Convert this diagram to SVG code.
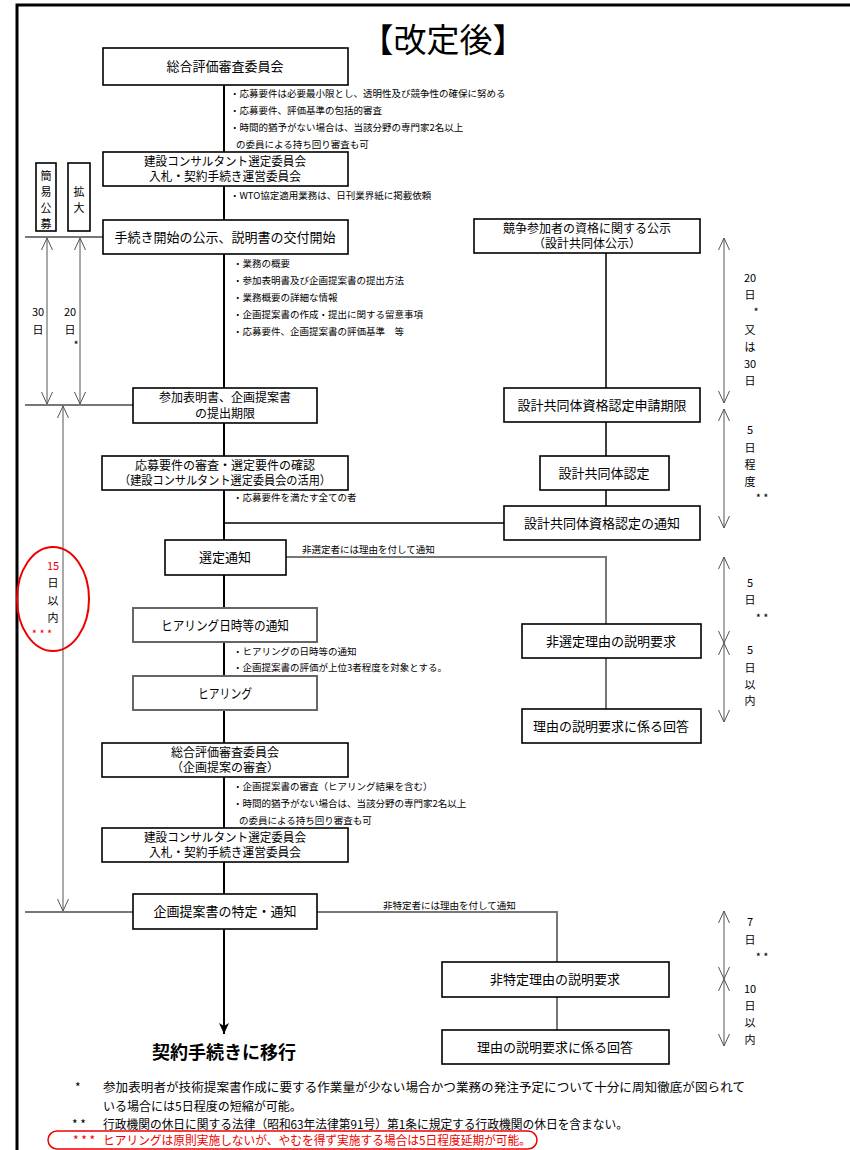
<svg xmlns="http://www.w3.org/2000/svg" width="850" height="1150" viewBox="0 0 850 1150">
<style>
text{font-family:"Noto Sans CJK JP","Noto Sans",sans-serif;fill:#000}
.bt{font-size:13px;text-anchor:middle}
.b2{font-size:12px;text-anchor:middle}
.n{font-size:9.5px}
.s{font-size:11px;text-anchor:middle}
.fn{font-size:12px}
.red{fill:#e00}
.box{fill:#fff;stroke:#000;stroke-width:1.6}
.gbox{fill:#fff;stroke:#666;stroke-width:2}
.main{stroke:#000;stroke-width:2;fill:none}
.thin{stroke:#000;stroke-width:1.5;fill:none}
.gray{stroke:#777;stroke-width:2;fill:none}
.dim{stroke:#555;stroke-width:1;fill:none}
</style>
<defs>
<marker id="v" viewBox="-14 -8 16 16" markerWidth="16" markerHeight="16" refX="0" refY="0" orient="auto-start-reverse" markerUnits="userSpaceOnUse">
<path d="M-12,-5.5 L0,0 L-12,5.5" fill="none" stroke="#555" stroke-width="1"/>
</marker>
<marker id="f" viewBox="-12 -6 13 12" markerWidth="13" markerHeight="12" refX="0" refY="0" orient="auto" markerUnits="userSpaceOnUse">
<path d="M-11,-5 L0,0 L-11,5 L-8,0 Z" fill="#000"/>
</marker>
</defs>
<rect width="850" height="1150" fill="#fff"/>
<path d="M17,1150 V5 H850" fill="none" stroke="#000" stroke-width="3"/>
<text x="443" y="52" font-size="33" text-anchor="middle">【改定後】</text>

<g id="connectors">
<path class="main" d="M224,85 V152 M224,186 V220 M224,254 V388 M224,423 V456 M224,490 V540 M224,575 V608 M224,642 V676 M224,710 V743 M224,777 V828 M224,862 V894"/>
<path class="main" d="M224,929 V1034" marker-end="url(#f)"/>
<path class="thin" d="M224,523 H504 M606,253 V388 M606,422 V456 M606,490 V506"/>
<path class="gray" d="M286,557 H606 V624 M606,658 V709 M317,912 H557 V962 M557,997 V1030"/>
<path class="gray" d="M25,237 H103 M25,405 H133 M25,912 H133"/>
<path class="dim" d="M47,238 V404" marker-start="url(#v)" marker-end="url(#v)"/>
<path class="dim" d="M80,238 V404" marker-start="url(#v)" marker-end="url(#v)"/>
<path class="dim" d="M63,406 V911" marker-start="url(#v)" marker-end="url(#v)"/>
<path class="dim" d="M724,238 V403" marker-start="url(#v)" marker-end="url(#v)"/>
<path class="dim" d="M724,409 V528" marker-start="url(#v)" marker-end="url(#v)"/>
<path class="dim" d="M724,557 V643" marker-start="url(#v)" marker-end="url(#v)"/>
<path class="dim" d="M724,643 V722" marker-start="url(#v)" marker-end="url(#v)"/>
<path class="dim" d="M724,911 V979" marker-start="url(#v)" marker-end="url(#v)"/>
<path class="dim" d="M724,979 V1046" marker-start="url(#v)" marker-end="url(#v)"/>
<text class="n" x="302" y="553">非選定者には理由を付して通知</text>
<text class="n" x="383" y="909">非特定者には理由を付して通知</text>
</g>

<g id="n1"><rect class="box" x="103" y="48" width="245" height="37"/><text class="bt" x="225" y="71">総合評価審査委員会</text></g>
<g id="notes1">
<text class="n" x="230" y="97">・応募要件は必要最小限とし、透明性及び競争性の確保に努める</text>
<text class="n" x="230" y="114">・応募要件、評価基準の包括的審査</text>
<text class="n" x="230" y="131">・時間的猶予がない場合は、当該分野の専門家2名以上</text>
<text class="n" x="236" y="148">の委員による持ち回り審査も可</text>
</g>
<g id="n2"><rect class="box" x="103" y="152" width="245" height="34"/><text class="b2" x="225" y="166" textLength="162" lengthAdjust="spacingAndGlyphs">建設コンサルタント選定委員会</text><text class="b2" x="225" y="181" textLength="152" lengthAdjust="spacingAndGlyphs">入札・契約手続き運営委員会</text></g>
<text class="n" x="230" y="199">・WTO協定適用業務は、日刊業界紙に掲載依頼</text>
<g id="kan"><rect class="box" x="36" y="163" width="20" height="68" stroke-width="1.2"/><text class="s" x="46" y="180">簡</text><text class="s" x="46" y="196">易</text><text class="s" x="46" y="212">公</text><text class="s" x="46" y="228">募</text></g>
<g id="kak"><rect class="box" x="68" y="163" width="22" height="68" stroke-width="1.2"/><text class="s" x="79" y="196">拡</text><text class="s" x="79" y="212">大</text></g>
<g id="n3"><rect class="box" x="103" y="220" width="245" height="34"/><text class="bt" x="225" y="242">手続き開始の公示、説明書の交付開始</text></g>
<g id="notes3">
<text class="n" x="233" y="267">・業務の概要</text>
<text class="n" x="233" y="284">・参加表明書及び企画提案書の提出方法</text>
<text class="n" x="233" y="301">・業務概要の詳細な情報</text>
<text class="n" x="233" y="318">・企画提案書の作成・提出に関する留意事項</text>
<text class="n" x="233" y="335">・応募要件、企画提案書の評価基準　等</text>
</g>
<g id="d30"><text class="s" x="38" y="316">30</text><text class="s" x="38" y="334">日</text></g>
<g id="d20"><text class="s" x="70" y="316">20</text><text class="s" x="70" y="334">日</text><text class="s" x="76" y="349">*</text></g>
<g id="n4"><rect class="box" x="133" y="388" width="184" height="35"/><text class="b2" x="225" y="402">参加表明書、企画提案書</text><text class="b2" x="225" y="418">の提出期限</text></g>
<g id="n5"><rect class="box" x="102" y="456" width="246" height="34"/><text class="b2" x="225" y="470">応募要件の審査・選定要件の確認</text><text class="b2" x="225" y="485" textLength="212" lengthAdjust="spacingAndGlyphs">（建設コンサルタント選定委員会の活用）</text></g>
<text class="n" x="233" y="501">・応募要件を満たす全ての者</text>
<g id="n6"><rect class="box" x="165" y="540" width="121" height="35"/><text class="bt" x="225" y="562">選定通知</text></g>
<g id="d15"><ellipse cx="53" cy="599" rx="36" ry="52" fill="none" stroke="#e00" stroke-width="2"/><text class="s red" x="53" y="570">15</text><text class="s" x="53" y="587">日</text><text class="s" x="53" y="605">以</text><text class="s" x="53" y="622">内</text><text class="s red" x="42" y="638">* * *</text></g>
<g id="n7"><rect class="gbox" x="133" y="608" width="184" height="34"/><text class="bt" x="225" y="630" textLength="128" lengthAdjust="spacingAndGlyphs">ヒアリング日時等の通知</text></g>
<text class="n" x="233" y="655">・ヒアリングの日時等の通知</text>
<text class="n" x="233" y="671">・企画提案書の評価が上位3者程度を対象とする。</text>
<g id="n8"><rect class="gbox" x="133" y="676" width="184" height="34"/><text class="bt" x="225" y="698" textLength="54" lengthAdjust="spacingAndGlyphs">ヒアリング</text></g>
<g id="n9"><rect class="box" x="102" y="743" width="246" height="34"/><text class="b2" x="225" y="757">総合評価審査委員会</text><text class="b2" x="225" y="772">（企画提案の審査）</text></g>
<g id="notes9">
<text class="n" x="233" y="790">・企画提案書の審査（ヒアリング結果を含む）</text>
<text class="n" x="233" y="807">・時間的猶予がない場合は、当該分野の専門家2名以上</text>
<text class="n" x="239" y="824">の委員による持ち回り審査も可</text>
</g>
<g id="n10"><rect class="box" x="102" y="828" width="246" height="34"/><text class="b2" x="225" y="842" textLength="162" lengthAdjust="spacingAndGlyphs">建設コンサルタント選定委員会</text><text class="b2" x="225" y="857" textLength="152" lengthAdjust="spacingAndGlyphs">入札・契約手続き運営委員会</text></g>
<g id="n11"><rect class="box" x="133" y="894" width="184" height="35"/><text class="bt" x="225" y="916">企画提案書の特定・通知</text></g>
<text x="224" y="1059" font-size="18" font-weight="bold" text-anchor="middle">契約手続きに移行</text>

<g id="r1"><rect class="box" x="474" y="219" width="226" height="34"/><text class="b2" x="587" y="233">競争参加者の資格に関する公示</text><text class="b2" x="587" y="248">（設計共同体公示）</text></g>
<g id="r2"><rect class="box" x="504" y="388" width="196" height="34"/><text class="bt" x="602" y="410">設計共同体資格認定申請期限</text></g>
<g id="r3"><rect class="box" x="540" y="456" width="129" height="34"/><text class="bt" x="604" y="478">設計共同体認定</text></g>
<g id="r4"><rect class="box" x="504" y="506" width="196" height="34"/><text class="bt" x="602" y="528">設計共同体資格認定の通知</text></g>
<g id="r5"><rect class="box" x="522" y="624" width="179" height="34"/><text class="bt" x="611" y="646">非選定理由の説明要求</text></g>
<g id="r6"><rect class="box" x="522" y="709" width="179" height="34"/><text class="bt" x="611" y="731">理由の説明要求に係る回答</text></g>
<g id="r7"><rect class="box" x="442" y="962" width="227" height="35"/><text class="bt" x="555" y="984">非特定理由の説明要求</text></g>
<g id="r8"><rect class="box" x="442" y="1030" width="227" height="34"/><text class="bt" x="555" y="1052">理由の説明要求に係る回答</text></g>

<g id="dr1"><text class="s" x="750" y="282">20</text><text class="s" x="750" y="299">日</text><text class="s" x="756" y="316">*</text><text class="s" x="750" y="334">又</text><text class="s" x="750" y="351">は</text><text class="s" x="750" y="368">30</text><text class="s" x="750" y="385">日</text></g>
<g id="dr2"><text class="s" x="750" y="434">5</text><text class="s" x="750" y="452">日</text><text class="s" x="750" y="469">程</text><text class="s" x="750" y="486">度</text><text class="s" x="762" y="502">* *</text></g>
<g id="dr3"><text class="s" x="750" y="587">5</text><text class="s" x="750" y="604">日</text><text class="s" x="762" y="622">* *</text></g>
<g id="dr4"><text class="s" x="750" y="654">5</text><text class="s" x="750" y="672">日</text><text class="s" x="750" y="689">以</text><text class="s" x="750" y="705">内</text></g>
<g id="dr5"><text class="s" x="750" y="926">7</text><text class="s" x="750" y="944">日</text><text class="s" x="762" y="961">* *</text></g>
<g id="dr6"><text class="s" x="750" y="993">10</text><text class="s" x="750" y="1010">日</text><text class="s" x="750" y="1027">以</text><text class="s" x="750" y="1044">内</text></g>

<g id="footnotes">
<text class="fn" x="75" y="1092">*</text>
<text class="fn" x="103" y="1092" textLength="642" lengthAdjust="spacingAndGlyphs">参加表明者が技術提案書作成に要する作業量が少ない場合かつ業務の発注予定について十分に周知徹底が図られて</text>
<text class="fn" x="103" y="1111">いる場合には5日程度の短縮が可能。</text>
<text class="fn" x="72" y="1129">* *</text>
<text class="fn" x="103" y="1129" textLength="525" lengthAdjust="spacingAndGlyphs">行政機関の休日に関する法律（昭和63年法律第91号）第1条に規定する行政機関の休日を含まない。</text>
<rect x="48" y="1131" width="489" height="18" rx="9" fill="none" stroke="#e00" stroke-width="1.5"/>
<text class="fn red" x="73" y="1145">* * *</text>
<text class="fn red" x="103" y="1145" textLength="428" lengthAdjust="spacingAndGlyphs">ヒアリングは原則実施しないが、やむを得ず実施する場合は5日程度延期が可能。</text>
</g>
</svg>
